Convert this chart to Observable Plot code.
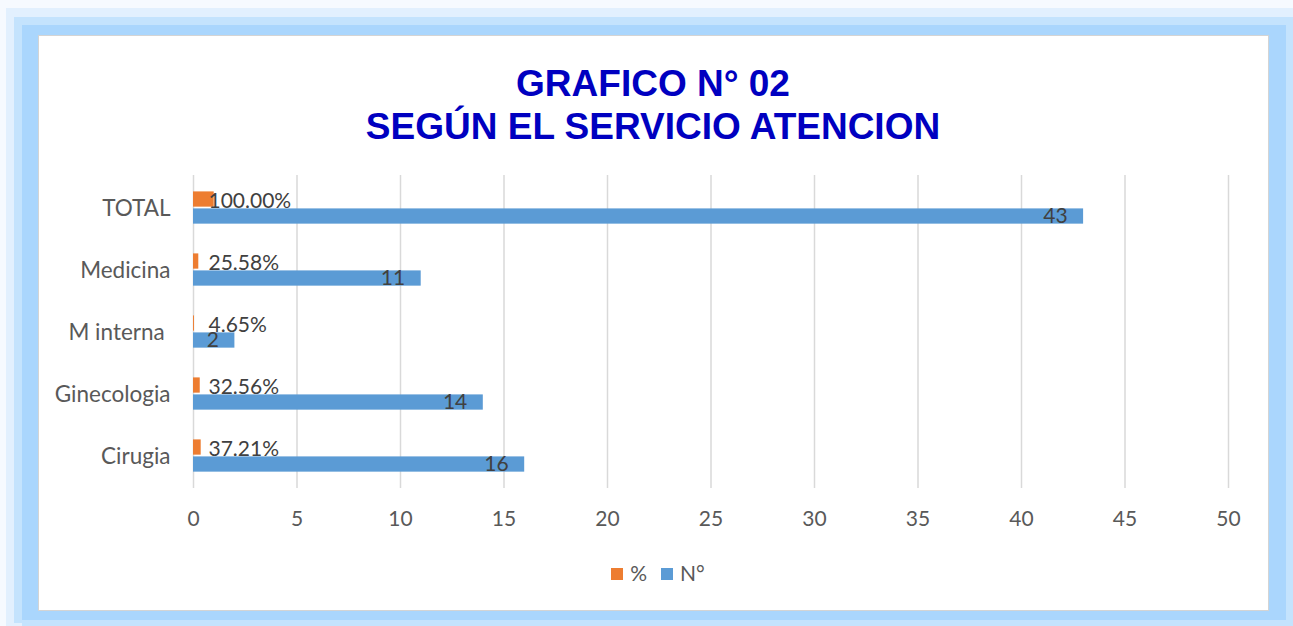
<!DOCTYPE html>
<html>
<head>
<meta charset="utf-8">
<script src="https://cdn.jsdelivr.net/npm/d3@7"></script>
<script src="https://cdn.jsdelivr.net/npm/@observablehq/plot@0.6"></script>
<style>
  html, body { margin: 0; padding: 0; background: #ffffff; }
  #page { position: relative; width: 1293px; height: 626px; overflow: hidden; background: #fbfdff; }
  .f { position: absolute; }
  #box { position: absolute; left: 38px; top: 35px; width: 1229px; height: 574px; background: #fff; border: 1px solid #d4d4d4; }
  #title { position: absolute; left: 38px; top: 62px; width: 1230px; text-align: center;
    font-family: "Liberation Sans", Arial, sans-serif; font-weight: bold; font-size: 37px; line-height: 43px; color: #0000c0; }
  #chart { position: absolute; left: 38px; top: 150px; }
  #chart g[aria-label^="y-axis"] text { font-size: 22.5px; }
  #legend { position: absolute; left: 43px; top: 561px; width: 1230px; display: flex; justify-content: center; gap: 14px;
    font-family: Lato, "Open Sans", sans-serif; font-size: 21px; color: #595959; line-height: 24px; }
  #legend span.sw { display: inline-block; width: 12px; height: 12px; margin-right: 7px; vertical-align: 1px; }
</style>
</head>
<body>
<div id="page">
  <div class="f" style="left:0;top:0;width:1293px;height:626px;background:#f6faff"></div>
  <div class="f" style="left:6px;top:8px;width:1287px;height:618px;background:#e2f0fe"></div>
  <div class="f" style="left:14px;top:17px;width:1279px;height:606px;background:#c4e3fd"></div>
  <div class="f" style="left:22px;top:25px;width:1264px;height:596px;background:#aad6fd"></div>
  <div class="f" style="left:1286px;top:25px;width:7px;height:601px;background:#c4e3fd"></div>
  <div class="f" style="left:22px;top:620px;width:1271px;height:6px;background:#c4e3fd"></div>
  <div id="box"></div>
  <div id="title">GRAFICO N° 02<br>SEGÚN EL SERVICIO ATENCION</div>
  <div id="chart"></div>
  <div id="legend"><div><span class="sw" style="background:#ed7d31"></span>%</div><div><span class="sw" style="background:#5b9bd5"></span>N°</div></div>
</div>
<script>
const categories = ["TOTAL", "Medicina", "M interna", "Ginecologia", "Cirugia"];
const pctValues = [1.0, 0.2558, 0.0465, 0.3256, 0.3721];
const pctLabels = ["100.00%", "25.58%", "4.65%", "32.56%", "37.21%"];
const countValues = [43, 11, 2, 14, 16];
const xTicks = [0, 5, 10, 15, 20, 25, 30, 35, 40, 45, 50];

const pctData = categories.map((c, i) => ({cat: c, v: pctValues[i], label: pctLabels[i]}));
const cntData = categories.map((c, i) => ({cat: c, v: countValues[i], label: String(countValues[i])}));

const font = "Lato, 'Open Sans', sans-serif";
const step = 62.75;
const chart = Plot.plot({
  width: 1230,
  height: 390,
  marginLeft: 155,
  marginRight: 40,
  marginTop: 25,
  marginBottom: 52,
  style: {background: "transparent", fontFamily: font, fontSize: "21px", color: "#595959"},
  x: {domain: [0, 50], ticks: xTicks, grid: false, label: null, tickSize: 0, tickPadding: 23},
  y: {domain: categories, padding: 0, label: null, tickSize: 0, tickPadding: 23,
      tickFormat: d => d === "M interna" ? "M interna\u00a0" : d},
  marks: [
    Plot.gridX(xTicks, {stroke: "#d9d9d9", strokeOpacity: 1, strokeWidth: 1.5}),
    Plot.barX(pctData, {y: "cat", x: "v", fill: "#ed7d31", insetTop: 14.4, insetBottom: step - 30.4}),
    Plot.barX(cntData, {y: "cat", x: "v", fill: "#5b9bd5", insetTop: 31.4, insetBottom: step - 47.4}),
    Plot.text(pctData, {y: "cat", x: () => 0, text: "label", textAnchor: "start", dx: 15, dy: -7, fill: "#404040", fontSize: 21, fontFamily: font}),
    Plot.text(cntData, {y: "cat", x: "v", text: "label", textAnchor: "end", dx: -16, dy: 8, fill: "#404040", fontSize: 21, fontFamily: font})
  ]
});
document.getElementById("chart").appendChild(chart);
</script>
</body>
</html>
